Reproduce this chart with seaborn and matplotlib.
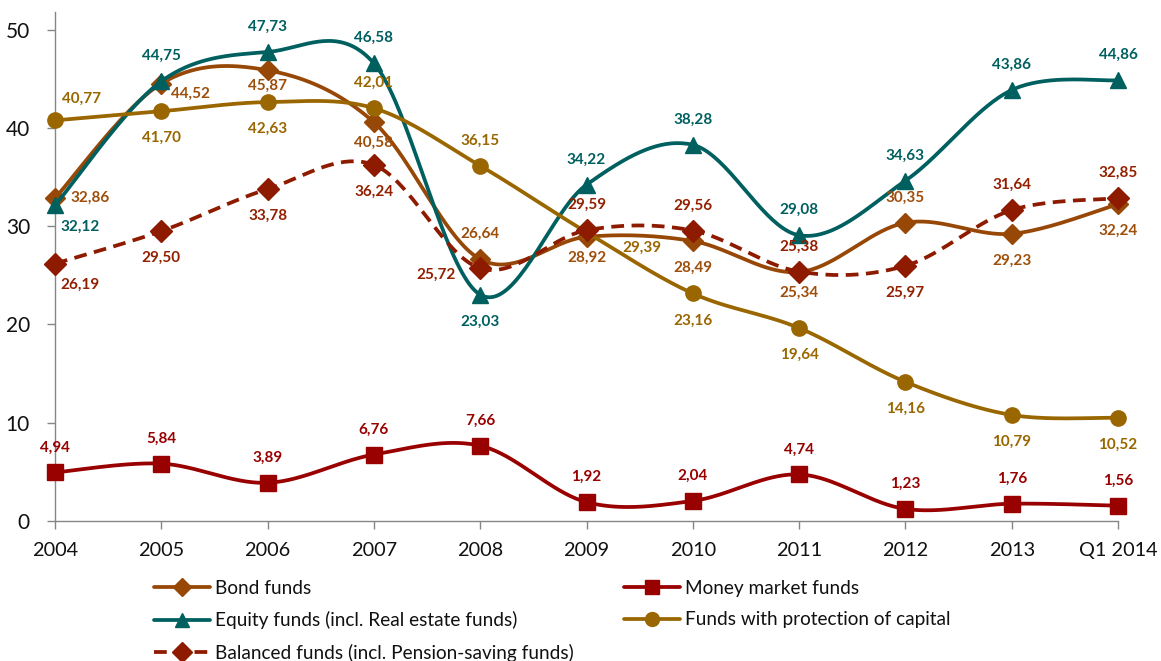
import numpy as np
import pandas as pd
import matplotlib
matplotlib.use("Agg")
import matplotlib.pyplot as plt
import seaborn as sns
from matplotlib.lines import Line2D

# ---------------- data ----------------
categories = ["2004", "2005", "2006", "2007", "2008", "2009", "2010", "2011", "2012", "2013", "Q1 2014"]
bond_funds = [32.86, 44.52, 45.87, 40.58, 26.64, 28.92, 28.49, 25.34, 30.35, 29.23, 32.24]
money_market = [4.94, 5.84, 3.89, 6.76, 7.66, 1.92, 2.04, 4.74, 1.23, 1.76, 1.56]
equity_funds = [32.12, 44.75, 47.73, 46.58, 23.03, 34.22, 38.28, 29.08, 34.63, 43.86, 44.86]
protection_funds = [40.77, 41.70, 42.63, 42.01, 36.15, 29.39, 23.16, 19.64, 14.16, 10.79, 10.52]
balanced_funds = [26.19, 29.50, 33.78, 36.24, 25.72, 29.59, 29.56, 25.38, 25.97, 31.64, 32.85]
series_names = ["Bond funds", "Money market funds", "Equity funds (incl. Real estate funds)",
                "Funds with protection of capital", "Balanced funds (incl. Pension-saving funds)"]
y_ticks = [0, 10, 20, 30, 40, 50]

# ---------------- style ----------------
sns.set_theme(style="white")
plt.rcParams["font.family"] = ["Lato", "DejaVu Sans"]

W, H = 1161, 661
fig = plt.figure(figsize=(W / 100, H / 100), dpi=100)
ax = fig.add_axes([55 / W, 140 / H, (1118 - 55) / W, 509 / H])


def smooth(vals, n=40):
    """Excel-like smoothed line (Catmull-Rom style Bezier)."""
    P = np.column_stack([np.arange(len(vals), dtype=float), np.asarray(vals, float)])
    out = []
    for i in range(len(P) - 1):
        p0 = P[i - 1] if i > 0 else P[i]
        p1, p2 = P[i], P[i + 1]
        p3 = P[i + 2] if i + 2 < len(P) else P[i + 1]
        c1 = p1 + (p2 - p0) / 6.0
        c2 = p2 - (p3 - p1) / 6.0
        t = np.linspace(0, 1, n, endpoint=(i == len(P) - 2))[:, None]
        out.append((1 - t) ** 3 * p1 + 3 * (1 - t) ** 2 * t * c1 + 3 * (1 - t) * t ** 2 * c2 + t ** 3 * p2)
    return pd.DataFrame(np.vstack(out), columns=["x", "y"])


# label placement codes -> (dx px, dy px, ha)
OFF = {
    "a": (0, 25, "center"),
    "b": (0, -27, "center"),
    "b2": (0, -16, "center"),
    "b3": (0, -21, "center"),
    "r": (15, 0, "left"),
    "br1": (10, -10, "left"),
    "br2": (5, -21, "left"),
    "ar": (7, 22, "left"),
    "l": (-24, -7, "right"),
    "r2": (36, -16, "left"),
}

specs = [
    # values, color, label color, marker, ms, dashed, placement
    (bond_funds, "#974706", "#9E4E0B", "D", 10, False,
     ["r", "br1", "b2", "b3", "a", "b3", "b", "b3", "a", "b", "b"]),
    (money_market, "#990000", "#990000", "s", 11, False,
     ["a"] * 11),
    (equity_funds, "#005F5F", "#005F5F", "^", 11, False,
     ["br2", "a", "a", "a", "b", "a", "a", "a", "a", "a", "a"]),
    (protection_funds, "#996600", "#996600", "o", 11, False,
     ["ar", "b", "b", "a", "a", "r2", "b", "b", "b", "b", "b"]),
    (balanced_funds, "#8E1B00", "#922000", "D", 11, True,
     ["br2", "b", "b", "b", "l", "a", "a", "a", "b", "a", "a"]),
]

xs = np.arange(len(categories))
handles = []
for k, (vals, col, lcol, mk, ms, dashed, place) in enumerate(specs):
    z = 3 + 2 * k
    df = smooth(vals)
    sns.lineplot(data=df, x="x", y="y", sort=False, estimator=None, color=col,
                 linewidth=2.7, ax=ax, zorder=z, clip_on=False, legend=False)
    line = ax.lines[-1]
    if dashed:
        line.set_dashes((3.4, 2.0))
    line.set_solid_capstyle("butt")
    ax.plot(xs, vals, linestyle="none", marker=mk, markersize=ms, color=col,
            markeredgecolor=col, zorder=z + 1, clip_on=False)
    for xi, v, p in zip(xs, vals, place):
        dx, dy, ha = OFF[p]
        ax.annotate(f"{v:.2f}".replace(".", ","), (xi, v), xytext=(dx, dy),
                    textcoords="offset pixels", ha=ha, va="center",
                    fontsize=11, fontweight="bold", color=lcol, zorder=20)
    handles.append(Line2D([], [], color=col, linewidth=2.7, marker=mk, markersize=ms - 1,
                          linestyle=(0, (3.4, 2.0)) if dashed else "-"))

# ---------------- axes ----------------
ax.set_xlim(0, len(categories) - 1)
ax.set_ylim(0, 51.8)
ax.set_xticks(xs)
ax.set_xticklabels(categories)
ax.set_yticks(y_ticks)
ax.set_xlabel("")
ax.set_ylabel("")
for s in ["top", "right"]:
    ax.spines[s].set_visible(False)
for s in ["left", "bottom"]:
    ax.spines[s].set_color("#868686")
    ax.spines[s].set_linewidth(1.0)
ax.tick_params(axis="x", bottom=True, direction="out", length=6, width=1, color="#868686",
               labelsize=14.3, pad=9, labelcolor="#111111")
ax.tick_params(axis="y", left=True, direction="out", length=6, width=1, color="#868686",
               labelsize=15, pad=12, labelcolor="#111111")
ax.grid(False)

# ---------------- legend ----------------
leg_kw = dict(frameon=False, fontsize=13.7, handlelength=2.95, handletextpad=0.26,
              labelspacing=0.75, borderpad=0, borderaxespad=0, loc="upper left")
leg1 = fig.legend([handles[0], handles[2], handles[4]],
                  [series_names[0], series_names[2], series_names[4]],
                  bbox_to_anchor=(154 / W, 1 - 580 / H), **leg_kw)
leg2 = fig.legend([handles[1], handles[3]], [series_names[1], series_names[3]],
                  bbox_to_anchor=(624 / W, 1 - 580 / H), **leg_kw)
for lg in (leg1, leg2):
    for t in lg.get_texts():
        t.set_color("#111111")

fig.savefig("out.png", dpi=100)
